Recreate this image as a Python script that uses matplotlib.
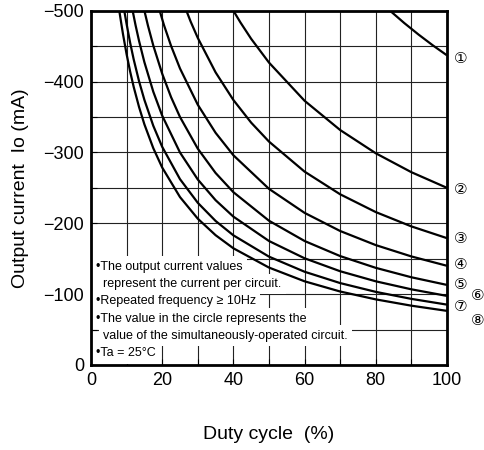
import matplotlib
matplotlib.use("Agg")
import matplotlib.pyplot as plt
from matplotlib.ticker import MultipleLocator

plt.rcParams['font.family'] = ['Liberation Sans', 'DejaVu Sans']

# curves (duty %, output current mA)
duty_1 = [84, 88, 92, 96, 100]
io_1 = [-500, -482.6, -466.4, -451.2, -437]

duty_2 = [40, 42, 45, 50, 60, 70, 80, 90, 100]
io_2 = [-500, -483.3, -460.3, -426.8, -372.9, -331.6, -298.8, -272.1, -250]

duty_3 = [26.8, 28, 30, 35, 40, 45, 50, 60, 70, 80, 90, 100]
io_3 = [-500, -484.6, -461.6, -413, -374, -342, -315.3, -272.9, -240.9, -215.8, -195.6, -179]

duty_4 = [19.3, 20.5, 22.5, 25, 30, 35, 40, 50, 60, 70, 80, 90, 100]
io_4 = [-500, -479.7, -450.3, -418.5, -367.3, -327.7, -296, -248.6, -214.7, -189.1, -169.2, -153.2, -140]

duty_5 = [15, 16, 17.5, 20, 22.5, 25, 30, 35, 40, 50, 60, 70, 80, 90, 100]
io_5 = [-500, -479, -450.9, -411.1, -378, -350, -305.3, -271, -243.9, -203.6, -175, -153.7, -137.1, -123.8, -113]

duty_6 = [11.7, 12.5, 13.5, 15, 17.5, 20, 25, 30, 35, 40, 50, 60, 70, 80, 90, 100]
io_6 = [-500, -480, -457.4, -427.4, -385.7, -351.9, -299.9, -261.8, -232.6, -209.4, -175, -150.6, -132.3, -118.1, -106.8, -97.5]

duty_7 = [9.35, 10, 11, 12, 13.5, 15, 17.5, 20, 25, 30, 35, 40, 50, 60, 70, 80, 90, 100]
io_7 = [-500, -481.3, -454.7, -431.2, -400.5, -374.2, -337.6, -307.9, -262.3, -228.9, -203.3, -183, -152.9, -131.6, -115.6, -103.2, -93.3, -85.2]

duty_8 = [7.95, 8.5, 9, 10, 11, 12, 13.5, 15, 17.5, 20, 25, 30, 35, 40, 50, 60, 70, 80, 90, 100]
io_8 = [-500, -482.3, -466.7, -438.7, -414.1, -392.4, -364.1, -339.7, -306, -278.7, -237, -206.5, -183.2, -164.7, -137.5, -118.1, -103.7, -92.6, -83.7, -76.4]

curve_labels = ['①', '②', '③', '④', '⑤', '⑥', '⑦', '⑧']

notes = [
    '•The output current values',
    ' represent the current per circuit.',
    '•Repeated frequency \u2265 10Hz',
    '•The value in the circle represents the',
    ' value of the simultaneously-operated circuit.',
    '•Ta = 25°C',
]

xticks = [0, 20, 40, 60, 80, 100]
yticks = [0, -100, -200, -300, -400, -500]

fig = plt.figure(figsize=(4.85, 4.5), dpi=100)
ax = fig.add_axes([0.1876, 0.1889, 0.734, 0.7873])

duties = [duty_1, duty_2, duty_3, duty_4, duty_5, duty_6, duty_7, duty_8]
ios = [io_1, io_2, io_3, io_4, io_5, io_6, io_7, io_8]
for d, i in zip(duties, ios):
    ax.plot(d, i, color='black', lw=1.6, solid_capstyle='butt', zorder=4)

# circled numbers next to the curve ends
label_dx = [14, 14, 14, 14, 14, 31, 14, 31]
label_dy = [-3, -2, 0, 1, 0, 0, -2, -10]
for k, (d, i) in enumerate(zip(duties, ios)):
    ax.annotate(curve_labels[k], (d[-1], i[-1]), xytext=(label_dx[k], label_dy[k]),
                textcoords='offset pixels', ha='center', va='center',
                fontsize=11, family=['DejaVu Sans'], annotation_clip=False)

ax.set_xlim(0, 100)
ax.set_ylim(0, -500)
ax.set_xticks(xticks)
ax.set_yticks(yticks)
ax.xaxis.set_minor_locator(MultipleLocator(10))
ax.yaxis.set_minor_locator(MultipleLocator(50))
ax.set_axisbelow(True)
ax.grid(which='both', color='#222222', lw=0.8)
ax.tick_params(which='both', direction='in', length=4, width=0.8, labelsize=13)
ax.tick_params(axis='y', pad=5)
ax.tick_params(axis='x', pad=5)
for s in ax.spines.values():
    s.set_linewidth(2.0)
    s.set_zorder(5)

ax.set_xlabel('Duty cycle  (%)', fontsize=14, labelpad=27)
ax.set_ylabel('Output current  Io (mA)', fontsize=14, labelpad=10)

# notes, each line masks the grid behind it
for n, line in enumerate(notes):
    x0 = 0.034 if line.startswith(' ') else 0.014
    ax.text(x0, 0.2775 - n * 0.0488, line.strip(), transform=ax.transAxes,
            fontsize=9, ha='left', va='center', zorder=3,
            bbox=dict(boxstyle='square,pad=0.35', fc='white', ec='none'))

fig.savefig('out.png', dpi=100)
